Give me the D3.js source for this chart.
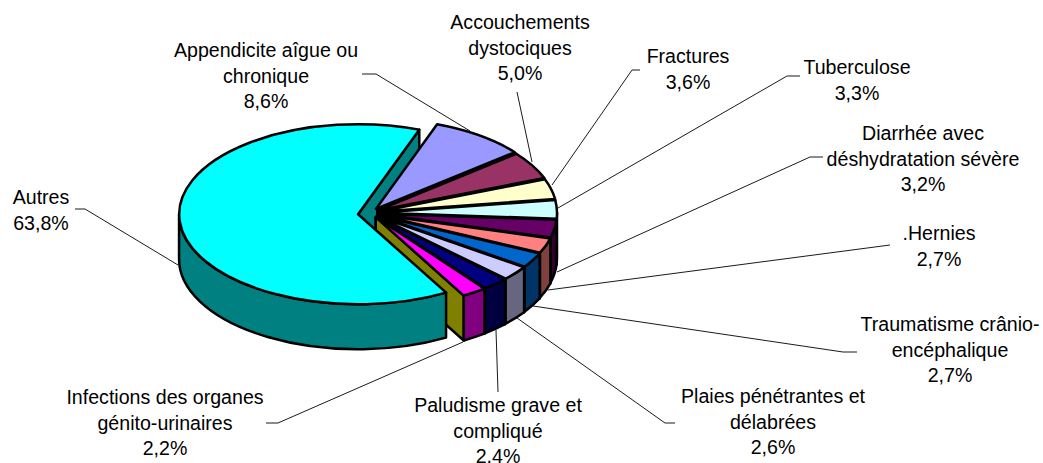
<!DOCTYPE html>
<html>
<head>
<meta charset="utf-8">
<script src="https://cdn.jsdelivr.net/npm/d3@7"></script>
<style>
    html, body { margin: 0; background: #fff; }
    text { font-family: "Liberation Sans", Arial, sans-serif; font-size: 19.6px; fill: #000; }
</style>
</head>
<body>
<div id="chart"></div>
<script>
// Slices in drawing order, clockwise from the top of the pie
const categories = [
    ["Appendicite aîgue ou", "chronique"],
    ["Accouchements", "dystociques"],
    ["Fractures"],
    ["Tuberculose"],
    ["Diarrhée avec", "déshydratation sévère"],
    [".Hernies"],
    ["Traumatisme crânio-", "encéphalique"],
    ["Plaies pénétrantes et", "délabrées"],
    ["Paludisme grave et", "compliqué"],
    ["Infections des organes", "génito-urinaires"],
    ["Autres"]
];
const values = [8.6, 5.0, 3.6, 3.3, 3.2, 2.7, 2.7, 2.6, 2.4, 2.2, 63.8];
const topColors = ["#9999FF", "#993366", "#FFFFCC", "#CCFFFF", "#660066", "#FF8080", "#0066CC", "#CCCCFF", "#000080", "#FF00FF", "#00FFFF"];
const wallColors = ["#4C4C80", "#4C1933", "#808066", "#668080", "#330033", "#804040", "#003366", "#666680", "#000040", "#800080", "#008080"];

// Where each label sits: centre x, first baseline, then its leader line
const labelX = [266, 520, 688, 857, 923, 939, 950, 773, 498, 165, 41];
const labelY = [57, 29, 63, 74, 140, 240, 331, 403, 412, 404, 204];
const leaders = [
    [[362, 74], [376, 74], [470, 131]],
    [[517, 92], [532, 162]],
    [[640, 70], [632, 70], [552, 185]],
    [[800, 76], [787, 76], [558, 208]],
    [[823, 157], [810, 157], [557, 272]],
    [[890, 245], [548, 290]],
    [[857, 352], [843, 352], [533, 306]],
    [[675, 423], [665, 423], [517, 318]],
    [[498, 392], [496, 330]],
    [[266, 423], [278, 423], [463, 342]],
    [[75, 209], [85, 209], [178, 265]]
];

const width = 1043, height = 463;
const lineHeight = 25.7;
const depth = 45;
const startAngle = 20 * Math.PI / 180;
const center = { x: 373, y: 213 };
const rx = 179, ry = 90;
// Every slice is pulled out a little, the big one more
const explode = 5, explodeAutres = 15;
const frontStart = Math.PI / 2, frontEnd = 3 * Math.PI / 2;

const svg = d3.select("#chart")
    .append("svg")
    .attr("width", width)
    .attr("height", height);

const slices = d3.pie()
    .sort(null)
    .startAngle(startAngle)
    .endAngle(startAngle + 2 * Math.PI)(values);

// Apex of a slice once exploded
function apex(d) {
    const mid = (d.startAngle + d.endAngle) / 2;
    const e = d.index === values.length - 1 ? explodeAutres : explode;
    return [center.x + e * Math.sin(mid), center.y - e * Math.cos(mid)];
}
const pointAt = (d, a, dy = 0) => {
    const c = apex(d);
    return [c[0] + rx * Math.sin(a), c[1] - ry * Math.cos(a) + dy];
};

// Leader lines go underneath the pie
const lineGen = d3.line();
svg.append("g")
    .selectAll("path")
    .data(leaders)
    .enter()
    .append("path")
    .attr("d", lineGen)
    .attr("fill", "none")
    .attr("stroke", "#000")
    .attr("stroke-width", 0.9);

const pie = svg.append("g")
    .attr("stroke", "#000")
    .attr("stroke-width", 2.5)
    .attr("stroke-linejoin", "round");

// Flat side of a slice at angle a
function sidePath(d, a) {
    const c = apex(d), p = pointAt(d, a);
    return lineGen([c, p, [p[0], p[1] + depth], [c[0], c[1] + depth]]) + "Z";
}

const autres = slices[slices.length - 1];
const lastSmall = slices[slices.length - 2];

// Cut face of the big slice
pie.append("path")
    .attr("d", sidePath(autres, autres.endAngle))
    .attr("fill", wallColors[10]);

// Gaps between the small slices read as black
pie.append("g")
    .selectAll("path")
    .data(slices.slice(1, -1))
    .enter()
    .append("path")
    .attr("d", (d) => sidePath(d, d.startAngle))
    .attr("fill", "#000");

// Cut face of the small slices, on the other side of the big gap
pie.append("path")
    .attr("d", sidePath(lastSmall, lastSmall.endAngle))
    .attr("fill", "#808000");

// Outer walls, only the parts facing the viewer
function wallPath(d) {
    const a0 = Math.max(d.startAngle, frontStart);
    const a1 = Math.min(d.endAngle, frontEnd);
    const large = a1 - a0 > Math.PI ? 1 : 0;
    const p0 = pointAt(d, a0), p1 = pointAt(d, a1);
    const q0 = pointAt(d, a0, depth), q1 = pointAt(d, a1, depth);
    return `M${p0}A${rx},${ry} 0 ${large} 1 ${p1}L${q1}A${rx},${ry} 0 ${large} 0 ${q0}Z`;
}

pie.append("g")
    .selectAll("path")
    .data(slices.filter((d) => d.endAngle > frontStart && d.startAngle < frontEnd))
    .enter()
    .append("path")
    .attr("d", wallPath)
    .attr("fill", (d) => wallColors[d.index]);

// Top faces
const arc = d3.arc().innerRadius(0).outerRadius(1);
pie.append("g")
    .selectAll("path")
    .data(slices)
    .enter()
    .append("path")
    .attr("d", arc)
    .attr("transform", (d) => {
        const c = apex(d);
        return `translate(${c[0]},${c[1]}) scale(${rx},${ry})`;
    })
    .attr("vector-effect", "non-scaling-stroke")
    .attr("fill", (d) => topColors[d.index]);

// Labels: category lines then the percentage with a French decimal comma
const percent = (v) => d3.format(".1f")(v).replace(".", ",") + "%";
const labels = svg.append("g")
    .selectAll("text")
    .data(categories)
    .enter()
    .append("text")
    .attr("text-anchor", "middle")
    .attr("x", (d, i) => labelX[i])
    .attr("y", (d, i) => labelY[i]);

labels.selectAll("tspan")
    .data((d, i) => d.concat(percent(values[i])).map((t) => ({ t, x: labelX[i] })))
    .enter()
    .append("tspan")
    .attr("x", (d) => d.x)
    .attr("dy", (d, j) => (j === 0 ? 0 : lineHeight))
    .text((d) => d.t);
</script>
</body>
</html>
